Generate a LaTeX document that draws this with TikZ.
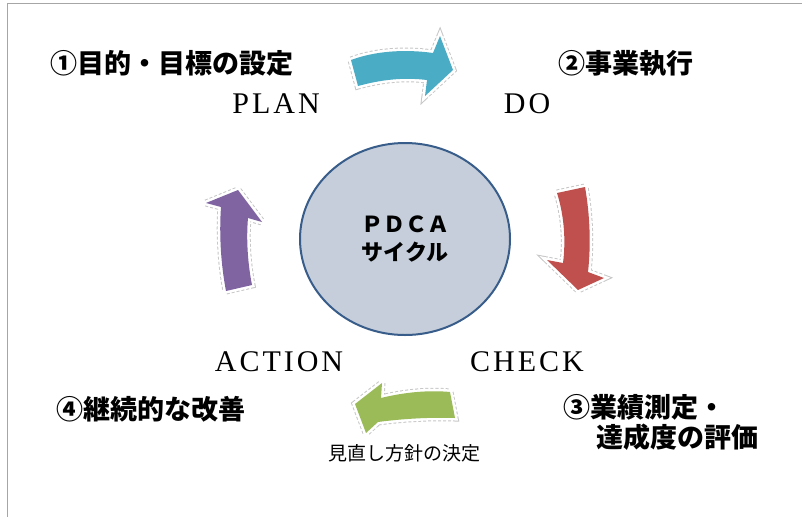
\documentclass[tikz,border=0pt]{standalone}
\usepackage{fontspec}
\usepackage{tikz}
\usetikzlibrary{shapes}
\newfontfamily\jpfont{Noto Sans CJK JP}
\newfontfamily\phasefont[LetterSpace=10]{Liberation Serif}
\definecolor{planblue}{RGB}{75,172,198}
\definecolor{dored}{RGB}{192,80,77}
\definecolor{actpurple}{RGB}{128,100,162}
\definecolor{checkgreen}{RGB}{155,187,89}
\definecolor{cyclefill}{RGB}{197,206,218}
\definecolor{cycleedge}{RGB}{56,93,138}

\begin{document}
\begin{tikzpicture}[x=1pt, y=-1pt,
    jplabel/.style={anchor=west, inner sep=0pt, font=\jpfont\bfseries\fontsize{27}{32}\selectfont},
    phase/.style={inner sep=0pt, font=\phasefont\fontsize{30}{36}\selectfont},
    blockarrow/.style={fill=#1, line join=round,
        preaction={draw=black!22, line width=7pt, dash pattern=on 3pt off 2pt},
        preaction={draw=white, line width=5pt}}
]
\useasboundingbox (0,0) rectangle (802,517);
\draw[gray!70, line width=1.5pt] (802,3.5) -- (7.5,3.5) -- (7.5,517);

% centre
\node[ellipse, draw=cycleedge, line width=2pt, fill=cyclefill, minimum width=210pt, minimum height=192pt,
    align=center, font=\jpfont\bfseries\fontsize{22}{28}\selectfont] (cycle) at (405,239) {ＰＤＣＡ\\サイクル};

% phases
\node[phase] (plan) at (276,104) {PLAN};
\node[phase] (do) at (527,104) {DO};
\node[phase] (check) at (527,362) {CHECK};
\node[phase] (action) at (279,362) {ACTION};

% steps
\node[jplabel] (goal) at (50,63) {①目的・目標の設定};
\node[jplabel] (exec) at (558,64) {②事業執行};
\node[jplabel] (measure) at (563,407) {③業績測定・};
\node[jplabel] (measuremore) at (596,437) {達成度の評価};
\node[jplabel] (improve) at (56,409) {④継続的な改善};
\node[jplabel, anchor=center, font=\jpfont\fontsize{19}{23}\selectfont] (review) at (404,453) {見直し方針の決定};

% block arrows
\path[blockarrow=planblue] (351,60) .. controls (375,51) and (405,49) .. (433,53) -- (440,36) -- (453,70)
    -- (425,96) -- (427,80) .. controls (402,77) and (380,80) .. (358,86) -- cycle;
\path[blockarrow=dored] (557,193) -- (585,187) .. controls (590,215) and (591,245) .. (588,272) -- (604,278)
    -- (578,290) -- (547,260) -- (563,263) .. controls (566,240) and (564,215) .. (557,193) -- cycle;
\path[blockarrow=checkgreen] (382,383) -- (381,398) .. controls (405,392) and (430,390) .. (450,392) -- (455,418)
    .. controls (430,417) and (400,419) .. (378,422) -- (366,433) -- (355,404) -- cycle;
\path[blockarrow=actpurple] (206,203) -- (238,190) -- (262,222) -- (248,218) .. controls (246,240) and (248,265) .. (252,285)
    -- (226,291) .. controls (221,265) and (219,235) .. (221,207) -- cycle;

\end{tikzpicture}
\end{document}
